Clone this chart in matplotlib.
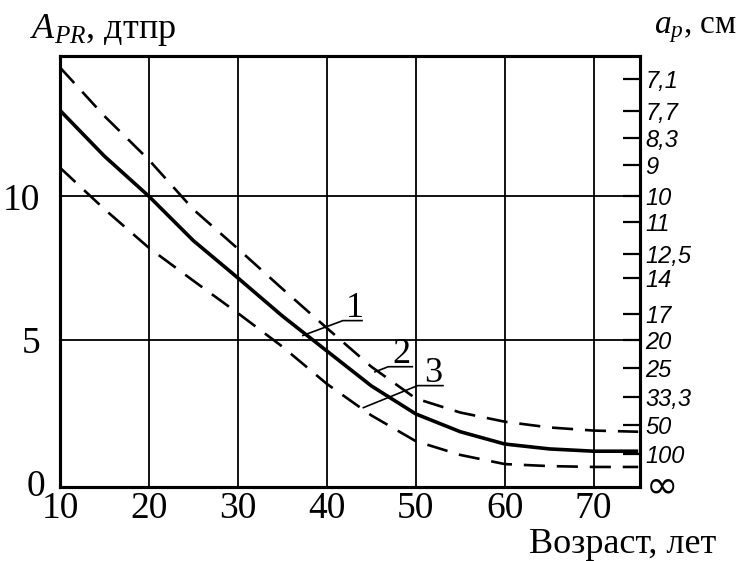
import numpy as np
import matplotlib.pyplot as plt

# age, years
age = [10, 15, 20, 25, 30, 35, 40, 45, 50, 55, 60, 65, 70, 75]
# curve 1 (solid), curve 2 (upper dashed), curve 3 (lower dashed)
apr_1 = [13.0, 11.4, 10.0, 8.45, 7.15, 5.82, 4.6, 3.38, 2.4, 1.78, 1.35, 1.18, 1.1, 1.1]
apr_2 = [14.5, 12.8, 11.27, 9.54, 8.17, 6.77, 5.4, 4.05, 2.94, 2.45, 2.13, 1.93, 1.82, 1.78]
apr_3 = [11.0, 9.55, 8.2, 7.05, 5.92, 4.75, 3.45, 2.35, 1.45, 0.97, 0.65, 0.58, 0.55, 0.55]

x_ticks = [10, 20, 30, 40, 50, 60, 70]
y_ticks = [5, 10]
ap_labels = ['7,1', '7,7', '8,3', '9', '10', '11', '12,5', '14', '17', '20',
             '25', '33,3', '50', '100', '∞']
ap_values = [7.1, 7.7, 8.3, 9, 10, 11, 12.5, 14, 17, 20, 25, 33.3, 50, 100, np.inf]

plt.rcParams['mathtext.fontset'] = 'custom'
plt.rcParams['mathtext.rm'] = 'Liberation Serif'
plt.rcParams['mathtext.it'] = 'Liberation Serif:italic'
serif = 'Liberation Serif'

fig = plt.figure(figsize=(7.4, 5.61), dpi=100)
ax = fig.add_axes([60 / 740, 1 - 487 / 561, 580 / 740, 431 / 561])

ax.plot(age, apr_1, color='black', lw=2.6, solid_capstyle='butt')
ax.plot(age, apr_2, color='black', lw=1.9, dashes=(8, 4.5))
ax.plot(age, apr_3, color='black', lw=1.9, dashes=(8, 4.5))

ax.set_xlim(10, 75.2)
ax.set_ylim(-0.15, 14.9)
ax.set_xticks(x_ticks)
ax.set_yticks(y_ticks)
ax.set_xticklabels([str(v) for v in x_ticks], fontsize=27, family=serif)
ax.set_yticklabels([str(v) for v in y_ticks], fontsize=27, family=serif)
ax.tick_params(axis='x', length=0, pad=3)
ax.tick_params(axis='y', length=0, pad=14)
ax.grid(True, color='black', lw=1.3)
for s in ax.spines.values():
    s.set_linewidth(2.2)

# "0" sits left of the corner, next to the bottom spine
ax.text(-0.026, 0.0, '0', transform=ax.transAxes, fontsize=27, family=serif,
        ha='right', va='center')

# right scale a_p
ax2 = ax.twinx()
ax2.set_ylim(ax.get_ylim())
ax2.set_yticks([100 / v for v in ap_values])
ax2.set_yticklabels(ap_labels, fontsize=17, style='italic', family='Liberation Sans')
ax2.tick_params(direction='in', length=12, width=1.6, pad=4)
inf_tick = ax2.yaxis.get_major_ticks()[-1]
inf_tick.tick1line.set_visible(False)
inf_tick.tick2line.set_visible(False)
ax2.get_yticklabels()[-1].set_fontsize(28)
ax2.get_yticklabels()[-1].set_family('DejaVu Sans')
for s in ax2.spines.values():
    s.set_linewidth(2.2)

# curve numbers with leader lines
lead = dict(color='black', lw=1.2)
ax.plot([37.3, 41.8, 43.95], [5.14, 5.66, 5.66], **lead)
ax.text(43.1, 5.80, '1', fontsize=26, family=serif, ha='center', va='baseline')
ax.plot([45.4, 46.9, 49.6], [3.87, 4.05, 4.05], **lead)
ax.text(48.4, 4.19, '2', fontsize=26, family=serif, ha='center', va='baseline')
ax.plot([44.1, 50.2, 53.05], [2.62, 3.39, 3.39], **lead)
ax.text(51.9, 3.53, '3', fontsize=26, family=serif, ha='center', va='baseline')

fig.text(30 / 740, 1 - 30 / 561, r'$A_{PR}$, дтпр', fontsize=26, family=serif,
         ha='left', va='center')
fig.text(654 / 740, 1 - 30 / 561, r'$a_p$, см', fontsize=24, family=serif,
         ha='left', va='center')
fig.text(716 / 740, 1 - 553 / 561, 'Возраст, лет', fontsize=26, family=serif,
         ha='right', va='baseline')

fig.savefig('out.png', dpi=100, facecolor='white')
